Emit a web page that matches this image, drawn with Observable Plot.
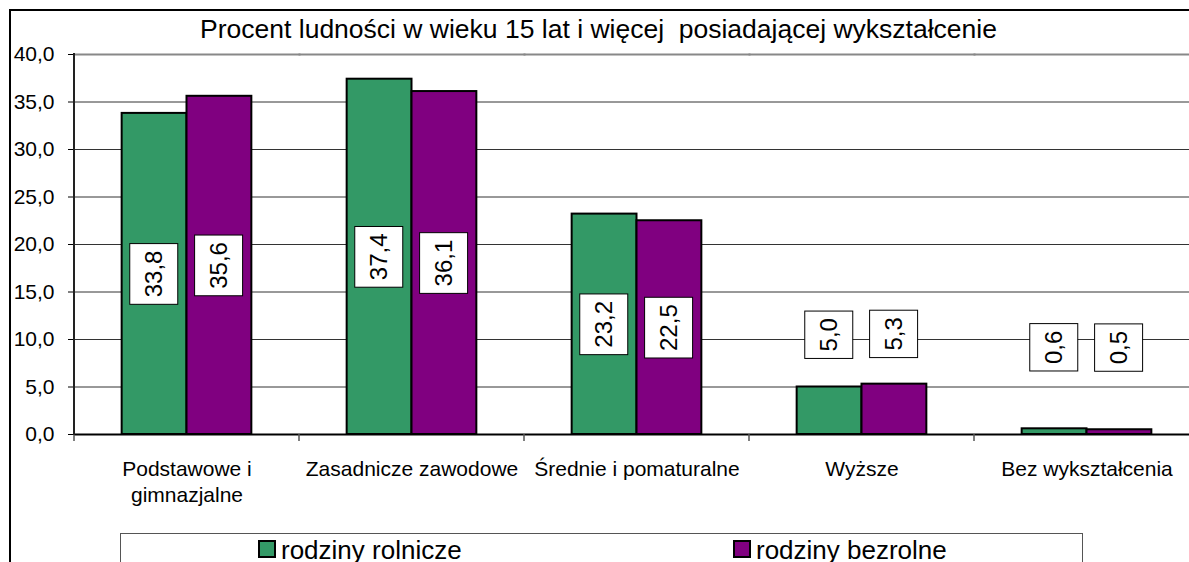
<!DOCTYPE html>
<html><head><meta charset="utf-8">
<script src="https://cdn.jsdelivr.net/npm/d3@7"></script>
<script src="https://cdn.jsdelivr.net/npm/@observablehq/plot@0.6"></script>
<style>
html,body{margin:0;padding:0;overflow:hidden;background:#fff;width:1189px;height:562px;}
body{font-family:"Liberation Sans",Arial,sans-serif;position:relative;color:#000;}
#frame{position:absolute;left:9px;top:9px;width:1300px;height:700px;border:2px solid #000;box-sizing:border-box;}
#chart{position:absolute;left:0;top:0;width:1200px;}
#chart svg{max-width:none !important;width:1200px;height:534px;}
#title{position:absolute;left:0;top:16px;width:1197px;text-align:center;font-size:26.5px;line-height:26px;white-space:pre;}
#legend{position:absolute;left:120px;top:533px;width:963px;height:60px;border:1px solid #555;box-sizing:border-box;background:#fff;}
.sw{position:absolute;top:6px;width:18px;height:18px;border:2px solid #000;box-sizing:border-box;}
.lt{position:absolute;top:3px;font-size:26px;line-height:26px;white-space:nowrap;}
</style></head><body>
<div id="frame"></div>
<div id="chart"></div>
<div id="title"></div>
<div id="legend"></div>
<script>
const titleText = "Procent ludności w wieku 15 lat i więcej  posiadającej wykształcenie";
const categories = ["Podstawowe i\ngimnazjalne", "Zasadnicze zawodowe", "Średnie i pomaturalne", "Wyższe", "Bez wykształcenia"];
const seriesNames = ["rodziny rolnicze", "rodziny bezrolne"];
const rolnicze = [33.8, 37.4, 23.2, 5.0, 0.6];
const bezrolne = [35.6, 36.1, 22.5, 5.3, 0.5];
const seriesColors = ["#339966", "#800080"];
const yTicks = [0, 5, 10, 15, 20, 25, 30, 35, 40];

const fmt = v => v.toFixed(1).replace(".", ",");
const labelPos = v => (v >= 10 ? v / 2 : 9 + 0.3 * v);

const rows = categories.flatMap((c, i) => [
  {category: c, series: seriesNames[0], value: rolnicze[i]},
  {category: c, series: seriesNames[1], value: bezrolne[i]}
]);

document.getElementById("title").textContent = titleText;

const plot = Plot.plot({
  width: 1200,
  height: 534,
  marginLeft: 72,
  marginRight: 0,
  marginTop: 54,
  marginBottom: 100,
  style: {fontFamily: "Liberation Sans, Arial, sans-serif", fontSize: "21px", background: "transparent", color: "#000", maxWidth: "none"},
  fx: {domain: categories, padding: 0, label: null},
  x: {domain: seriesNames, paddingInner: 0, paddingOuter: 0.735, axis: null, round: false},
  y: {domain: [0, 40]},
  color: {domain: seriesNames, range: seriesColors},
  marks: [
    Plot.gridY(yTicks, {stroke: "#333", strokeOpacity: 1}),
    Plot.frame({anchor: "top", stroke: "#888", strokeWidth: 2}),
    Plot.barY(rows, {fx: "category", x: "series", y: "value", fill: "series", stroke: "#000", strokeWidth: 2}),
    Plot.ruleY([0], {stroke: "#000", strokeWidth: 2}),
    Plot.axisY(yTicks, {tickSize: 6, tickPadding: 14, tickFormat: fmt, fontSize: 21, label: null, stroke: "#000"}),
    Plot.axisFx({anchor: "bottom", tickSize: 0, tickPadding: 23, lineHeight: 1.24, fontSize: 21, label: null}),
    Plot.text(rows, {fx: "category", x: "series", y: d => labelPos(d.value), text: d => fmt(d.value), rotate: -90, fontSize: 24, fill: "#000"})
  ]
});
document.getElementById("chart").append(plot);

// white boxes behind data labels
plot.querySelectorAll('g[aria-label="text"] text').forEach(t => {
  const bb = t.getBBox();
  const r = document.createElementNS("http://www.w3.org/2000/svg", "rect");
  const across = 48;
  r.setAttribute("x", bb.x - 7);
  r.setAttribute("width", bb.width + 14);
  r.setAttribute("y", bb.y + bb.height / 2 - across / 2);
  r.setAttribute("height", across);
  if (t.getAttribute("transform")) r.setAttribute("transform", t.getAttribute("transform"));
  r.setAttribute("fill", "#fff");
  r.setAttribute("stroke", "#000");
  r.setAttribute("stroke-width", 1);
  t.parentNode.insertBefore(r, t);
});

// category separators and y axis line, from the plot's own scales
const fxS = plot.scale("fx"), yS = plot.scale("y");
const y0 = yS.apply(0), yTop = yS.apply(40);
const bounds = categories.map(c => fxS.apply(c)).concat([fxS.apply(categories[categories.length - 1]) + fxS.bandwidth]);
const svg = d3.select(plot);
svg.append("g").selectAll("line").data(bounds).join("line")
  .attr("x1", d => d).attr("x2", d => d)
  .attr("y1", y0).attr("y2", y0 + 7)
  .attr("stroke", "#555").attr("stroke-width", 1.5);
svg.append("line")
  .attr("x1", bounds[0]).attr("x2", bounds[0])
  .attr("y1", yTop - 1).attr("y2", y0 + 1)
  .attr("stroke", "#222").attr("stroke-width", 2);

// legend
const legend = document.getElementById("legend");
const swX = [137, 612];
seriesNames.forEach((name, i) => {
  const sw = document.createElement("div");
  sw.className = "sw";
  sw.style.left = swX[i] + "px";
  sw.style.background = seriesColors[i];
  legend.append(sw);
  const lt = document.createElement("div");
  lt.className = "lt";
  lt.style.left = (swX[i] + 23) + "px";
  lt.textContent = name;
  legend.append(lt);
});
</script>
</body></html>
